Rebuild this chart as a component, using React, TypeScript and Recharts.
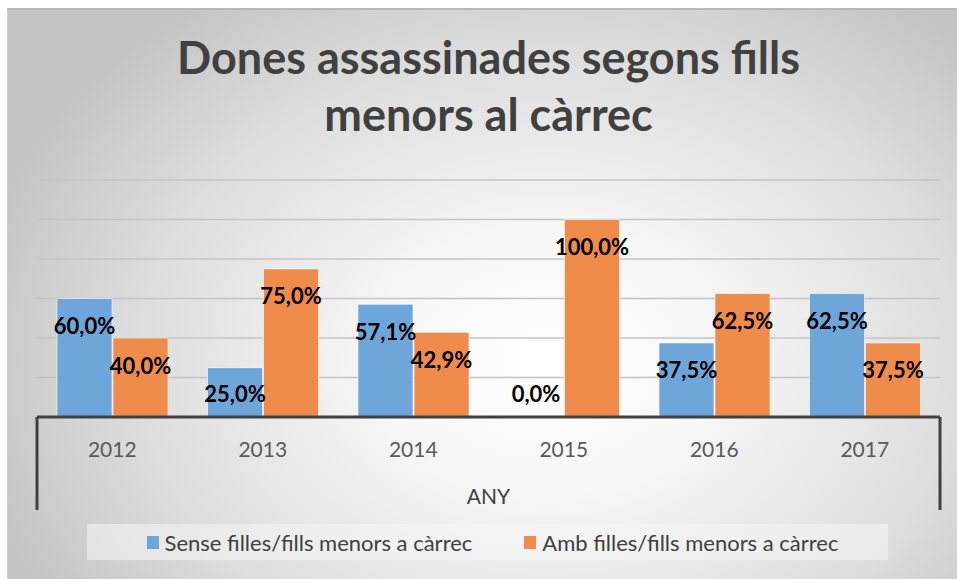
import React from "react";
import {
  Bar,
  BarChart,
  CartesianGrid,
  LabelList,
  Legend,
  XAxis,
  YAxis,
} from "recharts";

const years = ["2012", "2013", "2014", "2015", "2016", "2017"];
const senseFills = [60, 25, 57.1, 0, 37.5, 62.5];
const ambFills = [40, 75, 42.9, 100, 62.5, 37.5];
const yTicks = [0, 20, 40, 60, 80, 100, 120];
const seriesNames = [
  "Sense filles/fills menors a càrrec",
  "Amb filles/fills menors a càrrec",
];

const BLUE = "#6FA6DA";
const ORANGE = "#EF8C4C";
const FONT = "Lato, 'Open Sans', sans-serif";

const W = 950;
const H = 571;
const M = { top: 172, right: 17, left: 30, bottom: 19 };
const BAND = (W - M.left - M.right) / years.length;

const data = years.map((any, i) => ({
  any,
  sense: senseFills[i],
  amb: ambFills[i],
}));

function pct(v: number) {
  return `${v.toFixed(1).replace(".", ",")}%`;
}

function BarLabel(props: any) {
  const { x, y, width, height, value } = props;
  const base = y + height;
  const cy = Math.min(y + 27, base - 24);
  return (
    <text
      x={x + width / 2}
      y={cy}
      textAnchor="middle"
      dominantBaseline="central"
      fontFamily={FONT}
      fontWeight={700}
      fontSize={22}
      fill="#000"
    >
      {pct(Number(value))}
    </text>
  );
}

function YearTick(props: any) {
  const { x, y, payload, index } = props;
  const last = index === years.length - 1;
  return (
    <g>
      <text
        x={x}
        y={y + 31}
        textAnchor="middle"
        dominantBaseline="central"
        fontFamily={FONT}
        fontSize={21}
        fill="#595959"
      >
        {payload.value}
      </text>
      {index === 0 && (
        <line x1={x - BAND / 2} x2={x - BAND / 2} y1={y} y2={y + 93} stroke="#404040" strokeWidth={3} />
      )}
      {last && (
        <line x1={x + BAND / 2} x2={x + BAND / 2} y1={y} y2={y + 93} stroke="#404040" strokeWidth={3} />
      )}
    </g>
  );
}

function LegendBox() {
  const colors = [BLUE, ORANGE];
  return (
    <div
      style={{
        height: 36,
        boxSizing: "border-box",
        background: "rgba(245,245,245,0.55)",
        display: "flex",
        alignItems: "center",
        justifyContent: "center",
        paddingLeft: 10,
        fontFamily: FONT,
        fontSize: 22,
        color: "#404040",
      }}
    >
      {seriesNames.map((name, i) => (
        <div key={name} style={{ display: "flex", alignItems: "center", marginRight: i === 0 ? 52 : 0 }}>
          <span style={{ width: 12, height: 13, background: colors[i], marginRight: 6, display: "inline-block" }} />
          <span>{name}</span>
        </div>
      ))}
    </div>
  );
}

export default function App() {
  return (
    <div
      style={{
        position: "absolute",
        top: 8,
        left: 7,
        width: W,
        height: H,
        background:
          "radial-gradient(ellipse 62% 78% at 57% 62%, #ffffff 0%, #f6f6f6 30%, #dddddd 70%, #c4c4c4 100%)",
        boxShadow: "inset 0 2px 0 #b8b8b8, inset 1px 0 0 #cccccc",
      }}
    >
      <div
        style={{
          position: "absolute",
          top: 21,
          left: 0,
          width: 963,
          textAlign: "center",
          fontFamily: FONT,
          fontWeight: 700,
          fontSize: 45,
          lineHeight: "57px",
          color: "#404040",
        }}
      >
        Dones assassinades segons fills
        <br />
        menors al càrrec
      </div>
      <BarChart
        width={W}
        height={H}
        data={data}
        margin={M}
        barCategoryGap={20}
        barGap={1}
        style={{ position: "absolute", top: 0, left: 0 }}
      >
        <CartesianGrid horizontal vertical={false} stroke="#c4c4c4" strokeWidth={1.5} />
        <YAxis hide domain={[0, 120]} ticks={yTicks} />
        <XAxis
          dataKey="any"
          height={107}
          tickLine={false}
          tickSize={0}
          tickMargin={0}
          axisLine={{ stroke: "#404040", strokeWidth: 3 }}
          tick={<YearTick />}
          interval={0}
          label={{
            content: (p: any) => {
              const vb = p.viewBox;
              return (
                <text
                  x={vb.x + vb.width / 2}
                  y={vb.y + 78}
                  textAnchor="middle"
                  dominantBaseline="central"
                  fontFamily={FONT}
                  fontSize={21}
                  fill="#404040"
                >
                  ANY
                </text>
              );
            },
          }}
        />
        <Legend
          verticalAlign="bottom"
          content={() => <LegendBox />}
          wrapperStyle={{ left: 80, width: 801 }}
        />
        <Bar
          dataKey="sense"
          name={seriesNames[0]}
          fill={BLUE}
          stroke="rgba(255,255,255,0.6)"
          minPointSize={0.01}
          isAnimationActive={false}
        >
          <LabelList dataKey="sense" content={<BarLabel />} />
        </Bar>
        <Bar
          dataKey="amb"
          name={seriesNames[1]}
          fill={ORANGE}
          stroke="rgba(255,255,255,0.6)"
          isAnimationActive={false}
        >
          <LabelList dataKey="amb" content={<BarLabel />} />
        </Bar>
      </BarChart>
    </div>
  );
}
